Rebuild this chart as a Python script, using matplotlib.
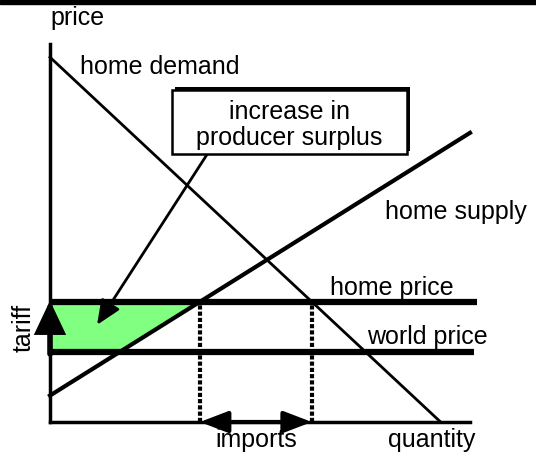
import numpy as np
import matplotlib
matplotlib.use("Agg")
import matplotlib.pyplot as plt
from matplotlib.patches import Rectangle
import matplotlib.patheffects as pe

# curves (quantity, price) in chart units
demand_q = [0, 93]
demand_p = [96.5, 0]
supply_q = [0, 100]
supply_p = [7, 76.5]
home_price = 31.8
world_price = 18.5

labels = {
    "price": (0, 107),
    "home demand": (7.1, 94),
    "home supply": (79.8, 55.5),
    "home price": (66.7, 35.5),
    "world price": (75.5, 22.5),
}

plt.rcParams['font.family'] = ['Liberation Sans', 'DejaVu Sans']

W, H = 536, 459
fig = plt.figure(figsize=(W / 100, H / 100), dpi=100)
# axes box in pixels: x 50..470, y 44..422
ax = fig.add_axes([50 / W, 1 - 422 / H, 420 / W, 378 / H])
ax.set_xlim(0, 100)
ax.set_ylim(0, 100)
ax.set_xticks([])
ax.set_yticks([])
ax.patch.set_alpha(0)
for s in ['top', 'right']:
    ax.spines[s].set_visible(False)
for s in ['left', 'bottom']:
    ax.spines[s].set_linewidth(2.5)

# black bar at the very top
fig.add_artist(Rectangle((0, 1 - 4 / H), 1, 4 / H, transform=fig.transFigure,
                         color='black'))

def supply_q_at(p):
    return np.interp(p, supply_p, supply_q)

def demand_q_at(p):
    return np.interp(p, demand_p[::-1], demand_q[::-1])

q_s = supply_q_at(home_price)
q_d = demand_q_at(home_price)
q_w = supply_q_at(world_price)

# producer surplus gain
ax.fill([0, q_s, q_w, 0], [home_price, home_price, world_price, world_price],
        color='#80ff80', zorder=1)

ax.plot(demand_q, demand_p, color='black', lw=2, zorder=3, clip_on=False)
ax.plot(supply_q, supply_p, color='black', lw=3, zorder=3, clip_on=False)
ax.plot([0, 101.6], [home_price, home_price], color='black', lw=4.5, zorder=3,
        clip_on=False, solid_capstyle='butt')
ax.plot([0, 100.9], [world_price, world_price], color='black', lw=4.5, zorder=3,
        clip_on=False, solid_capstyle='butt')

for q in [q_s, q_d]:
    ax.plot([q, q], [0, home_price], color='black', lw=3,
            linestyle=(0, (1.0, 0.5)), zorder=2)

# tariff arrow
ax.annotate('', xy=(0, home_price + 0.3), xytext=(0, world_price - 0.5),
            arrowprops=dict(arrowstyle='-|>,head_length=1.8,head_width=0.85',
                            mutation_scale=10, lw=4, color='black',
                            shrinkA=0, shrinkB=0, joinstyle='miter'),
            zorder=4, annotation_clip=False)
ax.text(-6.3, 25, 'tariff', rotation=90,
        ha='center', va='center', fontsize=18)

# imports arrow
ax.annotate('', xy=(q_d, 0), xytext=(q_s, 0),
            arrowprops=dict(arrowstyle='<|-|>,head_length=1.7,head_width=0.65',
                            mutation_scale=10, lw=3, color='black',
                            shrinkA=0, shrinkB=0),
            zorder=4, annotation_clip=False)
ax.text((q_s + q_d) / 2, -4.8, 'imports', ha='center', va='center', fontsize=18)
ax.text(80.5, -4.8, 'quantity', ha='left', va='center', fontsize=18)

for txt, (x, y) in labels.items():
    ax.text(x, y, txt, ha='left', va='center', fontsize=18)

# callout box
box = Rectangle((29, 70.9), 56, 16.9, facecolor='white', edgecolor='black',
                lw=1.8, zorder=5, clip_on=False,
                path_effects=[pe.SimplePatchShadow(offset=(2, 2), shadow_rgbFace='black',
                                                   alpha=1), pe.Normal()])
ax.add_patch(box)
ax.text(57, 82, 'increase in', ha='center', va='center', fontsize=18, zorder=6)
ax.text(57, 75.2, 'producer surplus', ha='center', va='center', fontsize=18, zorder=6)
ax.annotate('', xy=(11.2, 25.7), xytext=(37.4, 70.8),
            arrowprops=dict(arrowstyle='-|>,head_length=1.5,head_width=0.65',
                            mutation_scale=10, lw=2, color='black',
                            shrinkA=0, shrinkB=0),
            zorder=4)

fig.savefig('out.png', dpi=100)
